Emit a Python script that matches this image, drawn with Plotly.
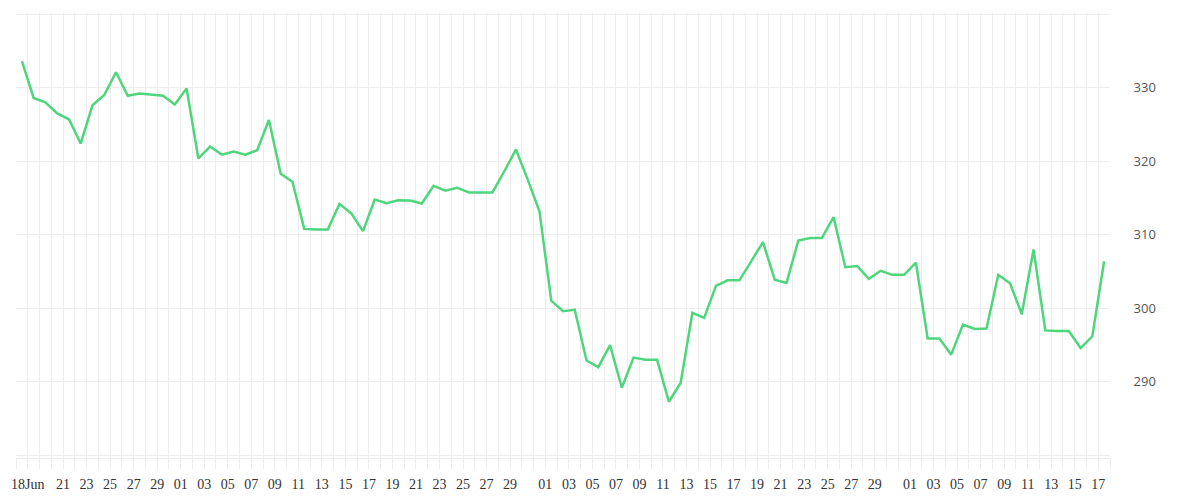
import pandas as pd
import plotly.graph_objects as go

# daily closing values, 17 Jun -> 17 Sep
start_day = "2024-06-17 12:00"
values = [
    333.6, 328.6, 328.0, 326.5, 325.7, 322.4, 327.6, 329.0, 332.1, 328.9,
    329.2, 329.1, 328.9, 327.7, 329.9, 320.4, 322.0, 320.9, 321.3, 320.9,
    321.5, 325.6, 318.3, 317.2, 310.8, 310.7, 310.7, 314.2, 312.9, 310.5,
    314.8, 314.3, 314.7, 314.65, 314.25, 316.65, 316.0, 316.4, 315.75, 315.75,
    315.75, 318.6, 321.6, 317.5, 313.2, 301.05, 299.6, 299.8, 292.9, 292.0,
    295.0, 289.2, 293.3, 293.0, 293.0, 287.3, 289.85, 299.4, 298.7, 303.05,
    303.8, 303.8, 306.4, 309.0, 303.9, 303.45, 309.2, 309.55, 309.55, 312.4,
    305.6, 305.75, 304.0, 305.1, 304.55, 304.55, 306.2, 295.9, 295.9, 293.7,
    297.8, 297.2, 297.25, 304.55, 303.4, 299.2, 308.0, 297.0, 296.9, 296.9,
    294.6, 296.2, 306.4,
]
dates = pd.date_range(start_day, periods=len(values), freq="D")

# labelled days on the x axis
tick_dates = (
    ["2024-06-18", "2024-06-21", "2024-06-23", "2024-06-25", "2024-06-27", "2024-06-29"]
    + ["2024-07-%02d" % d for d in range(1, 30, 2)]
    + ["2024-08-%02d" % d for d in range(1, 30, 2)]
    + ["2024-09-%02d" % d for d in range(1, 18, 2)]
)
tick_text = ["18Jun"] + [d[-2:] for d in tick_dates[1:]]

y_ticks = [280, 290, 300, 310, 320, 330, 340]
y_text = ["", "290", "300", "310", "320", "330", ""]

grid = "#ededed"

fig = go.Figure()
fig.add_trace(go.Scatter(
    x=dates,
    y=values,
    mode="lines",
    line=dict(color="#4fd67d", width=2.5),
    showlegend=False,
))

# the page body adds 8px, so margins are shifted to compensate
fig.update_layout(
    width=1200,
    height=500,
    margin=dict(l=8, r=98, t=5, b=50),
    paper_bgcolor="white",
    plot_bgcolor="white",
    xaxis=dict(
        type="date",
        automargin=False,
        range=["2024-06-17", "2024-09-18"],
        tickvals=tick_dates,
        ticktext=tick_text,
        showgrid=True,
        gridcolor=grid,
        ticks="outside",
        ticklen=10,
        tickcolor=grid,
        ticklabelstandoff=3,
        tickfont=dict(family="Liberation Serif", size=14, color="#333"),
        minor=dict(
            dtick=86400000,
            tick0="2024-06-17",
            showgrid=True,
            gridcolor=grid,
            ticks="outside",
            ticklen=10,
            tickcolor=grid,
        ),
        showline=True,
        linecolor=grid,
        zeroline=False,
    ),
    yaxis=dict(
        side="right",
        automargin=False,
        range=[279.65, 340.15],
        tickvals=y_ticks,
        ticktext=y_text,
        showgrid=True,
        gridcolor=grid,
        zeroline=False,
        ticks="outside",
        ticklen=20,
        tickcolor="rgba(0,0,0,0)",
        tickfont=dict(family="Open Sans", size=13, color="#555"),
    ),
)

fig.write_html("out.html")
